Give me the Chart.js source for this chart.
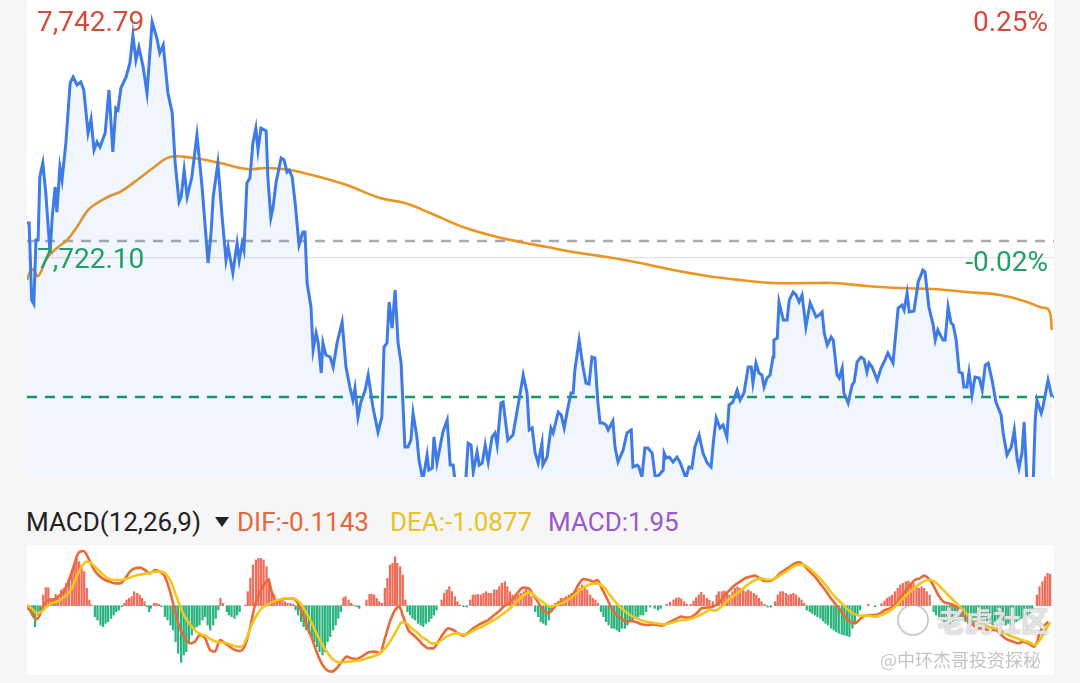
<!DOCTYPE html>
<html lang="zh-CN">
<head>
    <meta charset="UTF-8">
    <title>分时 MACD</title>
    <script src="https://cdn.jsdelivr.net/npm/chart.js"></script>
    <style>
        body { margin: 0; width: 1080px; height: 683px; background: #f6f6f7; font-family: Roboto, "Noto Sans", sans-serif; position: relative; overflow: hidden; }
        .box { position: absolute; background: #ffffff; }
        .lbl { position: absolute; font-size: 28px; line-height: 28px; white-space: nowrap; }
        .up { color: #d44b3b; }
        .down { color: #22a064; }
        .hdr { position: absolute; top: 509px; font-size: 26px; line-height: 26px; white-space: nowrap; }
        .tri { position: absolute; left: 215px; top: 517px; width: 0; height: 0; border-left: 7px solid transparent; border-right: 7px solid transparent; border-top: 10px solid #222; }
        .wm { position: absolute; white-space: nowrap; font-family: "Noto Sans CJK SC", sans-serif; }
    </style>
</head>
<body>
    <div class="box" id="mainBox" style="left:27px; top:0; width:1027px; height:477px;"><canvas id="priceChart"></canvas></div>
    <div class="box" id="macdBox" style="left:27px; top:545px; width:1027px; height:130px;"><canvas id="macdChart"></canvas></div>

    <div class="lbl up" style="left:37px; top:8px;">7,742.79</div>
    <div class="lbl up" style="right:32px; top:8px;">0.25%</div>
    <div class="lbl down" style="left:37px; top:245px;">7,722.10</div>
    <div class="lbl down" style="right:32px; top:248px;">-0.02%</div>

    <div class="hdr" style="left:26px; color:#222;">MACD(12,26,9)</div>
    <div class="tri"></div>
    <div class="hdr" style="left:237px; color:#e4683b;">DIF:-0.1143</div>
    <div class="hdr" style="left:390px; color:#e9c225;">DEA:-1.0877</div>
    <div class="hdr" style="left:548px; color:#9a58c8;">MACD:1.95</div>

    <div class="wm" style="left:897px; top:604px; width:28px; height:28px; border:2px solid rgba(170,170,170,0.6); border-radius:50%;"></div>
    <div class="wm" style="left:937px; top:600px; font-size:28px; font-weight:bold; color:rgba(238,238,238,0.85); text-shadow:0 0 2px #9a9a9a;">老虎社区</div>
    <div class="wm" style="left:880px; top:646px; font-size:18px; color:rgba(175,175,175,0.75);">@中环杰哥投资探秘</div>

    <script>
        // intraday price, time in session units 0..240
        const priceT = [
            0,0.5,1.1,1.6,2.1,2.6,3.0,3.7,4.4,5.4,
            5.9,6.6,7.0,7.7,8.2,9.1,10.1,10.8,11.7,12.6,
            13.3,14.3,15.0,15.7,16.4,17.1,18.3,19.2,20.1,20.8,
            21.3,22.0,23.2,24.1,24.8,25.5,26.2,27.2,28.1,29.3,
            30.4,31.1,31.9,33.0,34.0,34.7,35.6,36.1,36.8,37.5,
            38.6,39.8,41.0,42.4,43.1,43.6,44.7,45.7,46.6,47.1,
            48.2,49.2,49.7,50.4,50.8,51.5,52.2,52.9,53.6,54.1,
            54.8,56.0,56.4,57.1,57.6,58.3,59.5,60.2,60.9,61.4,
            62.1,62.8,63.7,64.6,65.1,65.6,66.5,67.0,67.7,68.2,
            68.9,69.3,70.0,71.0,71.7,72.6,73.8,74.7,75.6,76.3,
            76.8,77.5,78.2,79.2,79.9,81.0,82.2,83.1,83.6,84.3,
            84.8,85.5,86.2,86.9,87.6,88.5,89.2,89.9,90.4,91.3,
            91.8,92.7,93.7,94.1,94.9,95.3,96.0,97.4,98.4,99.1,
            99.8,100.2,101.4,102.6,103.3,104.0,104.5,105.4,105.9,106.6,
            107.3,108.0,108.9,109.6,110.1,111.0,111.5,112.6,113.8,114.8,
            115.5,116.2,117.1,117.6,118.3,119.0,119.7,120.6,120.8,121.8,
            122.7,123.2,124.4,125.1,125.8,126.7,127.4,127.9,128.3,129.3,
            130.2,130.9,131.6,132.3,133.0,133.7,134.2,134.9,135.6,136.1,
            137.2,137.7,138.4,139.3,139.6,140.5,141.5,141.9,142.9,143.3,
            144.0,144.7,145.4,146.4,147.1,148.0,149.0,149.2,149.7,150.4,
            151.3,152.2,152.9,153.6,154.3,155.0,155.7,156.4,157.4,158.3,
            159.3,160.2,160.7,161.4,162.3,163.0,163.9,164.4,165.3,166.3,
            167.0,167.9,168.9,169.6,170.0,170.7,171.4,172.1,172.6,173.3,
            174.0,174.7,174.9,175.7,176.1,177.1,178.0,178.5,179.4,180.1,
            180.8,181.5,182.4,183.4,184.8,185.5,186.2,186.7,187.4,188.3,
            188.8,189.7,190.2,190.9,191.3,192.3,193.2,193.7,194.4,195.3,
            196.0,196.7,197.2,197.9,199.1,200.0,200.9,201.6,202.8,204.0,
            204.9,205.4,206.1,206.6,207.7,208.7,209.8,210.3,211.2,212.2,
            212.7,213.3,214.5,215.0,215.7,216.4,216.9,217.6,218.3,219.0,
            219.4,220.1,220.6,221.3,222.0,223.0,223.7,224.4,225.1,226.0,
            226.9,228.1,228.6,229.5,230.5,231.2,231.9,232.3,233.0,233.5,
            234.2,234.9,235.6,236.1,236.5,237.5,237.9,239.1,240.0
        ];
        const price = [
            7725.30,7725.30,7718.19,7717.83,7723.73,7723.73,7729.54,7730.83,7728.07,7722.53,
            7725.85,7728.62,7726.31,7730.46,7729.26,7732.68,7738.21,7738.77,7738.03,7738.31,
            7737.57,7733.60,7734.89,7732.03,7732.77,7732.31,7733.60,7737.57,7731.85,7735.91,
            7735.72,7737.75,7738.77,7740.06,7742.64,7740.33,7741.53,7739.69,7737.29,7743.84,
            7742.36,7740.98,7741.72,7737.29,7735.45,7730.83,7727.24,7727.70,7730.19,7727.70,
            7729.54,7733.42,7728.62,7721.61,7724.38,7727.70,7730.83,7725.85,7721.88,7723.08,
            7720.69,7723.45,7721.88,7723.45,7722.81,7728.99,7729.45,7732.68,7734.06,7732.03,
            7734.06,7733.79,7729.54,7725.76,7726.68,7728.99,7731.29,7731.11,7730.00,7730.19,
            7729.54,7727.14,7723.27,7724.47,7724.47,7719.76,7717.55,7713.58,7715.15,7714.23,
            7711.46,7714.23,7713.12,7712.94,7712.01,7714.23,7716.17,7712.01,7710.17,7708.97,
            7710.08,7707.40,7708.79,7709.89,7711.28,7708.32,7706.02,7707.40,7713.86,7714.23,
            7718.01,7715.61,7719.12,7714.23,7712.38,7704.63,7704.63,7705.28,7707.77,7705.56,
            7703.43,7701.59,7703.90,7702.51,7702.70,7705.56,7703.16,7706.02,7707.12,7702.97,
            7702.97,7701.59,7700.21,7700.67,7705.00,7704.82,7702.33,7704.17,7702.97,7703.16,
            7704.82,7703.25,7705.56,7705.93,7704.82,7708.69,7708.79,7705.28,7705.74,7708.05,
            7709.62,7711.28,7709.62,7706.20,7706.39,7704.08,7703.16,7705.00,7702.97,7703.71,
            7706.39,7705.93,7707.86,7707.59,7706.39,7708.32,7709.62,7709.62,7711.74,7714.50,
            7712.01,7710.54,7710.45,7712.94,7712.84,7708.69,7706.85,7706.85,7706.66,7706.20,
            7707.03,7704.63,7703.25,7704.08,7704.36,7705.93,7706.20,7702.79,7702.97,7702.79,
            7701.87,7704.54,7704.54,7704.08,7701.87,7702.05,7702.51,7704.08,7703.62,7703.71,
            7703.25,7703.71,7703.25,7702.51,7701.78,7702.79,7702.70,7704.63,7705.74,7704.08,
            7703.16,7702.79,7705.00,7707.31,7706.39,7706.66,7705.56,7708.51,7708.79,7709.89,
            7708.97,7709.62,7712.01,7712.01,7710.54,7712.38,7711.46,7711.28,7710.17,7711.00,
            7711.28,7712.94,7714.50,7714.69,7718.01,7716.35,7716.35,7718.19,7718.93,7718.66,
            7718.01,7718.66,7715.70,7717.92,7716.63,7716.81,7717.09,7715.15,7714.04,7714.78,
            7714.50,7711.28,7711.00,7711.92,7709.62,7708.69,7710.35,7710.63,7712.48,7712.94,
            7712.75,7711.55,7712.38,7712.01,7710.81,7711.92,7712.66,7713.31,7712.38,7717.46,
            7717.73,7717.27,7718.84,7717.09,7717.18,7719.86,7720.96,7720.78,7717.55,7715.89,
            7714.50,7715.43,7714.50,7714.50,7717.55,7716.07,7715.89,7714.50,7711.55,7711.46,
            7710.17,7710.17,7711.55,7709.43,7711.09,7711.00,7709.89,7712.20,7712.38,7710.81,
            7708.79,7707.59,7705.93,7703.90,7704.63,7706.20,7703.43,7702.70,7704.08,7706.94,
            7701.13,7699.74,7701.13,7707.12,7708.97,7707.77,7708.32,7710.81,7709.25
        ];

        // average price line
        const maT = [0,1.2,2.6,4.7,7.0,9.4,11.7,14.3,16.4,19.4,21.8,25.8,29.5,33.5,38.9,45.2,51.5,56.2,61.6,63.9,
            68.6,74.9,82.7,88.5,94.4,102.1,110.1,115.5,121.8,127.9,135.8,143.6,151.3,159.3,167.0,174.7,182.7,188.8,
            196.7,204.5,212.2,220.1,227.9,234.2,237.2,239.3,240];
        const ma = [7720.04,7721.05,7720.41,7722.07,7722.99,7723.73,7724.93,7726.50,7727.14,7727.79,7728.16,7729.26,
            7730.37,7731.39,7731.29,7730.83,7730.28,7730.37,7730.19,7730.00,7729.54,7728.80,7727.60,7727.14,7726.22,
            7724.93,7724.01,7723.55,7723.08,7722.62,7722.16,7721.61,7720.96,7720.41,7720.04,7719.76,7719.76,7719.76,
            7719.49,7719.30,7719.21,7718.93,7718.66,7718.01,7717.55,7717.27,7715.43];

        const prevClose = 7723.64;
        const gridLevel = 7722.10;
        const greenLevel = 7709.25;
        const priceMin = 7701.87, priceMax = 7745.87;

        // MACD histogram
        const barT = [
            0.3,0.9,1.4,1.9,2.5,3.1,3.8,4.4,5.0,5.6,
            6.2,6.7,7.3,8.0,8.6,9.2,9.8,10.5,11.1,11.6,
            12.2,12.8,13.4,14.0,14.6,15.1,15.9,16.5,17.2,17.8,
            18.4,19.0,19.7,20.3,20.9,21.5,22.2,22.8,23.3,23.9,
            24.5,25.1,25.8,26.4,26.9,27.5,28.0,28.6,29.0,29.7,
            30.3,30.9,31.5,32.3,32.9,33.6,34.2,34.8,35.4,36.1,
            36.7,37.3,37.9,38.6,39.2,39.8,40.4,41.1,41.7,42.3,
            42.9,43.6,44.2,44.8,45.3,45.9,46.8,47.3,47.9,48.6,
            49.2,49.8,51.1,51.7,52.3,52.9,53.6,54.2,54.8,55.4,
            56.1,56.7,57.3,57.9,58.5,59.2,59.8,60.4,61.0,61.7,
            62.3,62.9,63.5,64.2,64.8,65.4,66.0,66.7,67.3,67.9,
            68.5,69.2,69.8,70.4,71.0,71.7,72.3,72.9,73.5,74.1,
            74.6,75.3,75.9,76.5,77.2,77.8,79.5,80.2,80.7,81.3,
            81.9,82.5,83.1,83.8,84.4,85.0,85.6,86.2,86.7,87.4,
            88.0,88.6,89.1,89.7,90.3,90.9,91.6,92.2,92.8,93.4,
            94.1,94.7,95.3,95.9,97.1,97.7,98.3,98.9,99.5,100.2,
            100.8,101.4,102.2,103.0,103.8,104.4,105.0,105.6,106.3,106.9,
            107.5,108.1,108.7,109.4,110.0,110.6,111.2,111.9,112.5,113.1,
            113.7,114.4,115.0,115.6,116.3,116.9,117.5,118.1,119.0,119.7,
            120.3,120.9,121.5,122.2,122.8,123.7,124.4,125.0,125.6,126.2,
            126.9,127.5,128.1,128.7,129.4,130.0,130.6,131.2,131.9,132.5,
            133.1,133.7,134.4,135.0,135.6,136.2,136.9,137.5,138.1,138.7,
            139.3,140.0,140.6,141.2,141.8,142.5,143.1,143.7,144.3,145.0,
            145.9,147.0,147.8,148.4,149.8,150.6,151.4,152.0,152.6,153.2,
            153.9,154.5,155.4,156.1,156.7,157.3,157.9,158.5,159.2,159.8,
            160.6,161.5,162.0,162.7,163.3,163.9,164.5,165.2,165.8,166.4,
            167.0,167.7,168.3,168.9,169.5,170.2,170.8,171.4,172.0,172.7,
            173.4,174.2,175.2,175.8,176.4,177.0,177.7,178.3,178.9,179.5,
            180.1,180.8,181.4,182.0,182.6,183.3,183.9,184.5,185.1,185.8,
            186.4,187.0,187.6,188.3,188.9,189.5,190.1,190.8,191.4,192.0,
            192.6,193.3,193.9,194.5,195.1,197.0,198.6,200.1,200.8,201.4,
            202.0,202.6,203.3,203.9,204.5,205.1,205.8,206.4,207.0,207.6,
            208.3,208.9,209.5,210.1,210.7,211.4,212.3,212.9,213.6,214.2,
            214.8,215.4,216.1,216.7,217.3,217.9,218.6,219.2,219.8,220.4,
            221.1,221.7,222.3,222.9,223.6,224.2,224.8,225.4,226.1,226.7,
            227.3,227.9,228.5,229.2,229.8,230.4,231.0,231.7,232.3,232.9,
            233.5,234.2,234.8,235.4,236.5,237.1,237.8,238.4,239.0,239.6
        ];
        const macd = [
            -0.26,-0.36,-0.56,-1.26,-0.56,-0.36,0.64,1.08,1.08,0.44,
            0.44,0.68,0.54,0.94,1.04,1.34,1.64,2.04,2.44,2.84,
            2.64,2.44,2.04,1.04,0.34,0.04,-0.66,-0.86,-1.16,-1.26,
            -1.06,-0.96,-0.76,-0.56,-0.36,-0.26,-0.06,0.14,0.34,0.44,
            0.54,0.84,0.74,0.64,0.44,0.24,-0.06,-0.36,-0.16,0.14,
            0.14,0.08,-0.06,-0.66,-0.86,-1.16,-1.46,-2.16,-2.86,-3.40,
            -2.96,-2.76,-2.16,-1.76,-1.36,-1.26,-1.16,-0.86,-0.66,-1.16,
            -1.46,-1.16,-0.76,-0.26,0.44,0.14,-0.36,-0.56,-0.66,-0.76,
            -0.56,-0.36,0.04,0.84,1.64,2.44,2.74,2.84,2.84,2.74,
            2.34,1.64,0.84,0.64,0.34,0.24,0.24,0.24,0.14,0.14,
            0.08,-0.26,-0.56,-0.96,-1.26,-1.46,-1.66,-1.86,-2.16,-2.46,
            -2.76,-2.96,-2.76,-2.16,-1.86,-1.46,-1.16,-0.76,-0.36,0.48,
            0.54,0.34,0.14,0.04,-0.06,-0.16,0.34,0.68,0.68,0.64,
            0.44,0.24,0.14,1.04,1.64,2.44,2.54,2.94,2.54,2.34,
            1.84,0.34,-0.36,-0.56,-0.76,-0.86,-1.06,-1.16,-1.26,-1.06,
            -0.96,-0.76,-0.56,-0.26,0.34,0.74,0.94,1.14,0.84,0.54,
            0.24,0.04,-0.06,-0.08,0.34,0.64,0.64,0.68,0.64,0.74,
            0.84,0.74,0.74,0.94,0.94,1.14,1.34,1.44,1.14,0.84,
            0.64,0.54,0.64,0.74,0.84,1.04,0.84,0.54,-0.36,-0.66,
            -0.96,-1.06,-1.16,-0.86,-0.36,0.14,0.24,0.44,0.44,0.54,
            0.64,0.74,0.84,0.94,1.04,1.24,1.14,0.94,0.64,0.44,
            0.34,0.14,-0.36,-0.66,-0.96,-1.16,-1.36,-1.36,-1.46,-1.56,
            -1.36,-1.36,-1.16,-0.96,-0.86,-0.76,-0.66,-0.56,-0.56,-0.36,
            -0.08,-0.16,-0.26,-0.16,0.08,0.20,0.34,0.44,0.48,0.40,
            0.24,0.08,0.08,0.28,0.48,0.64,0.80,0.64,0.44,0.34,
            0.24,0.64,0.84,0.84,0.88,0.74,0.64,0.84,1.04,1.14,
            1.04,0.94,0.84,0.94,0.84,0.74,0.64,0.44,0.24,0.08,
            -0.08,-0.08,0.24,0.64,0.84,0.84,0.74,0.64,0.68,0.74,
            0.64,0.48,0.34,0.14,-0.26,-0.36,-0.46,-0.56,-0.66,-0.76,
            -0.92,-1.06,-1.16,-1.36,-1.46,-1.56,-1.66,-1.72,-1.76,-1.80,
            -1.86,-1.36,-0.96,-0.56,-0.26,0.08,-0.06,0.12,0.28,0.44,
            0.54,0.64,0.84,1.04,1.24,1.34,1.44,1.48,1.24,1.34,
            1.14,1.04,1.14,1.04,0.84,0.64,-0.36,-0.56,-0.76,-0.86,
            -0.96,-1.06,-1.06,-0.96,-0.86,-0.86,-0.76,-0.86,-0.96,-1.06,
            -1.16,-1.06,-0.96,-0.92,-0.86,-0.86,-0.96,-1.06,-1.16,-1.16,
            -1.06,-1.16,-1.06,-1.16,-1.06,-1.16,-1.06,-0.96,-0.86,-0.76,
            -0.66,-0.56,-0.46,-0.26,0.64,1.14,1.44,1.74,1.94,1.88
        ];

        const difT = [0,0.7,1.5,2.3,3.0,3.8,5.0,6.2,7.3,8.5,9.7,10.9,12.0,13.2,14.4,15.5,16.7,18.3,19.4,20.6,
            21.8,23.0,24.1,25.3,26.5,27.6,28.8,30.0,31.1,32.3,33.5,34.7,35.8,37.0,38.2,39.3,40.5,41.7,42.9,44.0,
            45.2,46.4,47.5,48.7,49.9,51.1,52.2,53.4,54.6,55.7,56.5,57.3,58.5,59.6,60.8,62.0,63.2,64.3,65.5,66.7,
            67.8,69.0,70.2,71.4,72.5,73.7,74.9,76.0,77.2,78.4,80.0,
            81.5,82.7,83.8,85.0,86.2,87.2,88.1,89.3,90.5,91.7,92.8,94.0,95.2,96.3,97.5,98.7,99.8,101.0,102.2,103.4,
            104.5,105.7,106.9,108.0,109.2,110.4,111.6,112.7,113.9,115.1,116.2,117.4,118.6,119.8,120.9,122.1,123.3,124.4,125.6,126.8,
            128.0,129.1,130.3,131.5,132.6,133.6,134.6,135.8,136.9,138.1,139.3,140.4,141.6,142.8,144.0,145.1,146.3,147.5,148.6,149.8,
            151.0,152.2,153.3,154.5,155.7,156.8,158.0,159.2,160.7,
            162.3,163.4,164.6,165.8,167.0,168.1,169.3,170.5,171.6,172.8,174.0,175.2,176.3,177.5,178.7,179.8,181.0,182.2,183.3,184.5,
            185.7,186.9,188.0,189.2,190.4,191.5,192.7,193.9,195.1,196.2,197.4,198.6,199.7,200.9,202.1,203.3,204.4,205.6,206.8,207.9,
            209.1,210.1,211.1,212.2,213.4,214.6,215.7,216.9,218.1,219.3,220.4,221.6,222.8,223.9,225.1,226.3,227.5,228.6,229.8,231.0,
            232.1,233.3,234.5,235.7,236.4,237.2,238.0,239.2];
        const dif = [0.04,-0.26,-0.66,-0.80,-0.56,-0.06,0.34,0.34,0.54,0.84,1.44,2.34,3.14,3.28,2.84,2.24,1.84,1.54,1.44,1.34,
            1.34,1.64,2.04,2.24,2.28,2.14,1.94,2.14,2.04,1.74,0.84,-0.36,-1.36,-1.96,-2.26,-2.16,-1.76,-1.96,-2.66,-2.76,
            -2.06,-2.26,-2.46,-2.66,-2.72,-2.36,-1.36,0.04,0.84,1.34,1.54,0.84,0.24,0.34,0.44,0.44,0.24,-0.36,-1.16,-1.96,
            -2.76,-3.46,-3.86,-3.96,-3.76,-3.36,-3.06,-3.16,-3.20,-3.06,-2.80,
            -2.76,-2.86,-1.96,-0.96,-0.26,-0.06,-0.66,-1.46,-1.76,-2.06,-2.36,-2.56,-2.56,-2.16,-1.66,-1.36,-1.46,-1.66,-1.80,-1.60,
            -1.36,-1.16,-1.00,-0.86,-0.60,-0.36,-0.06,0.14,0.44,0.84,1.08,1.04,0.64,0.14,-0.26,-0.46,-0.16,0.14,0.24,0.44,
            0.74,1.24,1.60,1.54,1.44,1.54,1.04,0.44,-0.16,-0.56,-0.80,-0.96,-0.92,-1.00,-1.12,-1.16,-1.12,-1.16,-1.20,-1.06,
            -0.92,-0.76,-0.66,-0.72,-0.66,-0.46,-0.16,-0.12,-0.06,
            0.24,0.64,0.94,1.24,1.44,1.64,1.74,1.80,1.64,1.48,1.48,1.64,1.94,2.14,2.34,2.54,2.60,2.34,2.04,1.74,
            1.34,0.94,0.54,0.14,-0.26,-0.66,-0.96,-1.06,-0.80,-0.60,-0.56,-0.56,-0.46,-0.26,-0.16,0.04,0.44,0.84,1.24,1.54,
            1.64,1.80,1.64,1.24,0.64,0.24,0.14,0.04,-0.16,-0.66,-0.86,-1.16,-1.36,-1.36,-1.46,-1.46,-1.56,-1.86,-2.06,-2.16,
            -2.26,-2.16,-2.26,-2.46,-2.26,-1.60,-1.26,-0.96];

        const deaT = [0,1.1,2.3,3.4,4.6,5.8,7.3,8.9,10.5,11.6,12.8,14.0,15.1,16.3,17.5,19.0,20.6,22.2,23.7,25.3,
            26.9,28.4,30.0,31.5,32.7,33.9,35.0,36.2,37.4,38.6,39.7,40.9,42.1,43.3,44.4,45.6,46.8,47.9,49.1,50.3,
            51.4,52.6,53.8,54.9,56.1,57.3,58.9,60.4,62.0,63.2,64.3,65.5,66.7,67.8,69.0,70.2,71.4,72.5,73.7,75.3,
            76.8,78.4,80.0,
            81.9,83.5,85.0,86.6,87.7,88.9,90.1,91.3,92.4,93.6,94.8,95.9,97.1,98.3,99.5,100.6,101.8,103.0,104.1,105.3,
            106.9,108.4,110.0,111.6,113.1,114.7,116.2,117.8,119.4,120.9,122.5,124.0,125.6,127.2,128.7,130.3,131.9,133.4,135.0,136.5,
            138.1,139.7,141.2,142.8,144.3,145.9,147.5,149.0,150.6,152.2,153.7,155.3,156.8,158.4,160.0,
            161.1,162.7,164.2,165.8,167.3,168.9,170.5,172.0,173.6,175.2,176.7,178.3,179.8,181.4,183.0,184.5,186.1,187.6,189.2,190.8,
            192.3,193.9,195.4,197.0,198.6,200.1,201.7,203.3,204.8,206.4,207.9,209.5,211.1,212.6,214.2,215.7,217.3,218.9,220.4,222.0,
            223.6,225.1,226.7,228.2,229.8,231.4,232.9,234.5,236.0,237.2,238.4,239.6];
        const dea = [0.04,-0.16,-0.46,-0.36,-0.06,0.14,0.28,0.54,1.04,1.74,2.34,2.64,2.54,2.24,1.94,1.64,1.54,1.54,1.64,1.80,
            1.88,1.94,2.04,2.04,1.84,1.34,0.54,-0.26,-0.86,-1.26,-1.56,-1.72,-1.86,-2.06,-2.16,-2.20,-2.26,-2.36,-2.46,-2.46,
            -1.96,-1.16,-0.56,-0.16,0.04,0.20,0.34,0.44,0.44,0.34,0.04,-0.46,-1.06,-1.66,-2.26,-2.76,-3.16,-3.36,-3.40,-3.36,
            -3.32,-3.26,-3.12,
            -2.96,-2.66,-2.16,-1.46,-1.00,-1.06,-1.36,-1.60,-1.86,-2.06,-2.26,-2.26,-2.06,-1.86,-1.72,-1.66,-1.72,-1.72,-1.56,-1.40,
            -1.22,-1.00,-0.76,-0.46,-0.16,0.24,0.60,0.80,0.48,0.20,-0.06,0.04,0.20,0.44,0.74,1.08,1.28,1.34,1.14,0.64,
            0.14,-0.26,-0.56,-0.76,-0.92,-1.00,-1.06,-1.12,-1.06,-0.92,-0.86,-0.80,-0.66,-0.46,-0.26,
            -0.30,-0.06,0.34,0.64,0.94,1.28,1.54,1.64,1.54,1.64,1.88,2.14,2.40,2.48,2.28,1.94,1.54,1.04,0.54,0.14,
            -0.26,-0.52,-0.60,-0.60,-0.66,-0.56,-0.36,-0.06,0.34,0.74,1.08,1.40,1.54,1.44,1.04,0.64,0.24,-0.16,-0.56,-0.86,
            -1.06,-1.26,-1.36,-1.52,-1.76,-1.92,-2.06,-2.16,-2.36,-2.06,-1.52,-1.00];
        const macdMin = -4.16, macdMax = 3.64;

        const pts = (xs, ys) => xs.map((x, i) => ({ x: x, y: ys[i] }));
        const flat = (v) => [{ x: 0, y: v }, { x: 240.5, y: v }];

        const hiddenAxes = (ymin, ymax) => ({
            x: { type: 'linear', min: 0, max: 240.5, display: false, offset: false },
            y: { min: ymin, max: ymax, display: false }
        });

        new Chart(document.getElementById('priceChart'), {
            type: 'line',
            data: {
                datasets: [
                    { data: pts(priceT, price), borderColor: '#3f7be6', borderWidth: 3, pointRadius: 0, tension: 0,
                      fill: 'start', backgroundColor: 'rgba(63,123,230,0.075)', order: 0 },
                    { data: pts(maT, ma), borderColor: '#ec9422', borderWidth: 2.6, pointRadius: 0, tension: 0.4, fill: false, order: 1 },
                    { data: flat(prevClose), borderColor: '#a6a9b2', borderWidth: 2.5, borderDash: [10, 8], pointRadius: 0, fill: false, order: 3 },
                    { data: flat(gridLevel), borderColor: '#dcdde2', borderWidth: 1, pointRadius: 0, fill: false, order: 4 },
                    { data: flat(greenLevel), borderColor: '#17985e', borderWidth: 2.5, borderDash: [10, 8], pointRadius: 0, fill: false, order: 2 }
                ]
            },
            options: {
                responsive: true, maintainAspectRatio: false, animation: false,
                layout: { padding: 0 },
                plugins: { legend: { display: false }, tooltip: { enabled: false } },
                scales: hiddenAxes(priceMin, priceMax)
            }
        });

        new Chart(document.getElementById('macdChart'), {
            type: 'bar',
            data: {
                datasets: [
                    { type: 'line', data: pts(deaT, dea), borderColor: '#f4c51c', borderWidth: 2.6, pointRadius: 0,
                      cubicInterpolationMode: 'monotone', fill: false, order: 0 },
                    { type: 'line', data: pts(difT, dif), borderColor: '#ea6a37', borderWidth: 2.6, pointRadius: 0,
                      cubicInterpolationMode: 'monotone', fill: false, order: 1 },
                    { type: 'bar', data: pts(barT, macd), barThickness: 1.6, grouped: false,
                      backgroundColor: barT.map((t, i) => macd[i] >= 0 ? '#ef6c5a' : '#2ab47e'), order: 2 }
                ]
            },
            options: {
                responsive: true, maintainAspectRatio: false, animation: false,
                layout: { padding: 0 },
                plugins: { legend: { display: false }, tooltip: { enabled: false } },
                scales: hiddenAxes(macdMin, macdMax)
            }
        });
    </script>
</body>
</html>
